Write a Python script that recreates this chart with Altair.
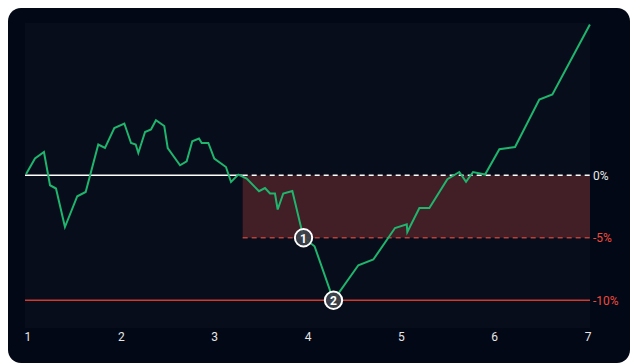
import altair as alt
import pandas as pd

# ---- data ----
x_vals = [0.98, 1.075, 1.171, 1.236, 1.300, 1.396, 1.528, 1.618, 1.753, 1.825,
          1.925, 2.032, 2.104, 2.154, 2.182, 2.254, 2.318, 2.371, 2.460, 2.497,
          2.629, 2.700, 2.760, 2.832, 2.861, 2.932, 2.996, 3.121, 3.175, 3.253,
          3.343, 3.475, 3.539, 3.593, 3.646, 3.675, 3.735, 3.832, 3.952, 4.070,
          4.273, 4.539, 4.700, 4.932, 5.058, 5.064, 5.193, 5.300, 5.493, 5.621,
          5.693, 5.768, 5.897, 6.050, 6.218, 6.478, 6.618, 7.02]
y_vals = [0.1, 1.34, 1.86, -0.8, -1.06, -4.14, -1.68, -1.34, 2.46, 2.18,
          3.78, 4.14, 2.58, 2.46, 1.78, 3.46, 3.66, 4.4, 3.94, 2.18,
          0.8, 1.12, 2.72, 2.94, 2.58, 2.58, 1.34, 0.66, -0.54, 0.05,
          -0.26, -1.28, -1.02, -1.46, -1.46, -2.74, -1.46, -1.26, -5.0, -5.68,
          -10.0, -7.2, -6.74, -4.22, -3.92, -4.54, -2.62, -2.62, -0.32, 0.26,
          -0.52, 0.26, 0.06, 2.08, 2.26, 6.06, 6.46, 12.06]

x_ticks = [1, 2, 3, 4, 5, 6, 7]
x_tick_labels = ["1", "2", "3", "4", "5", "6", "7"]
y_ticks = [0, -5, -10]
y_tick_labels = ["0%", "-5%", "-10%"]
x_domain = [0.968, 7.021]
y_domain = [-12.22, 12.18]

dd_start = 3.30
level_zero = 0
level_soft = -5
level_hard = -10

marker_x = [3.952, 4.273]
marker_y = [-5, -10]
marker_labels = ["1", "2"]

# ---- styles ----
GREEN = "#1fb56d"
RED_LINE = "#d2392f"
RED_DASH = "#b8413b"
RED_LABEL = "#ee4b3d"
CARD = "#030816"
PLOT = "#070d1b"
SHADE = "#421e26"
FONT = "Roboto"

W, H = 565, 305

line_df = pd.DataFrame({"x": x_vals, "y": y_vals})
xs = alt.Scale(domain=x_domain, nice=False, zero=False)
ys = alt.Scale(domain=y_domain, nice=False, zero=False)
one = pd.DataFrame({"a": [0]})

card = alt.Chart(one).mark_rect(fill=CARD, cornerRadius=13).encode(
    x=alt.value(-17), x2=alt.value(605), y=alt.value(-15), y2=alt.value(340))
plot_bg = alt.Chart(one).mark_rect(fill=PLOT).encode(
    x=alt.value(0), x2=alt.value(W), y=alt.value(0), y2=alt.value(H))

shade_df = pd.DataFrame({"x": [dd_start], "x2": [x_domain[1]],
                         "y": [level_zero], "y2": [level_soft]})
shade = alt.Chart(shade_df).mark_rect(fill=SHADE).encode(
    x=alt.X("x:Q", scale=xs, axis=None), x2="x2:Q",
    y=alt.Y("y:Q", scale=ys, axis=None), y2="y2:Q")

def rule(x0, x1, yv, color, dash=None, width=1.5):
    df = pd.DataFrame({"x": [x0], "x2": [x1], "y": [yv]})
    kw = dict(color=color, strokeWidth=width)
    if dash:
        kw["strokeDash"] = dash
    return alt.Chart(df).mark_rule(**kw).encode(
        x=alt.X("x:Q", scale=xs, axis=None), x2="x2:Q",
        y=alt.Y("y:Q", scale=ys, axis=None))

zero_solid = rule(x_domain[0], dd_start, level_zero, "#ffffff")
zero_dash = rule(dd_start, x_domain[1], level_zero, "#ffffff", [5, 4])
soft_dash = rule(dd_start, x_domain[1], level_soft, RED_DASH, [5, 4])
hard_line = rule(x_domain[0], x_domain[1], level_hard, RED_LINE)

line = alt.Chart(line_df).mark_line(color=GREEN, strokeWidth=2).encode(
    x=alt.X("x:Q", scale=xs, axis=None),
    y=alt.Y("y:Q", scale=ys, axis=None))

# tick labels (placed through the scales)
xl_df = pd.DataFrame({"v": x_ticks, "t": x_tick_labels})
x_labels = alt.Chart(xl_df).mark_text(
    color="#e6e6e6", fontSize=12, font=FONT, align="center",
    baseline="middle").encode(
    x=alt.X("v:Q", scale=xs, axis=None), y=alt.value(H + 8.5), text="t:N")

yl_df = pd.DataFrame({"v": y_ticks, "t": y_tick_labels})
y_labels = alt.Chart(yl_df).mark_text(
    fontSize=12, font=FONT, align="left", baseline="middle", dy=0.5).encode(
    x=alt.value(W + 3), y=alt.Y("v:Q", scale=ys, axis=None), text="t:N",
    color=alt.condition("datum.v == 0", alt.value("#e8e8e8"),
                        alt.value(RED_LABEL)))

mk_df = pd.DataFrame({"x": marker_x, "y": marker_y, "t": marker_labels})
markers = alt.Chart(mk_df).mark_point(shape="circle", filled=True, size=300,
                                      fill="#3e434c", fillOpacity=0.92,
                                      stroke="#ffffff", strokeWidth=2,
                                      opacity=1).encode(
    x=alt.X("x:Q", scale=xs, axis=None), y=alt.Y("y:Q", scale=ys, axis=None))
mk_text = alt.Chart(mk_df).mark_text(color="#ffffff", fontWeight="bold",
                                     fontSize=12, font=FONT, align="center",
                                     baseline="middle", dy=1).encode(
    x=alt.X("x:Q", scale=xs, axis=None), y=alt.Y("y:Q", scale=ys, axis=None),
    text="t:N")

chart = alt.layer(card, plot_bg, shade, zero_solid, zero_dash, soft_dash,
                  hard_line, line, markers, mk_text, x_labels,
                  y_labels).properties(
    width=W, height=H,
    autosize=alt.AutoSizeParams(type="none"),
    padding={"left": 17, "top": 15, "right": 40, "bottom": 35},
    background="#ffffff",
).configure_view(stroke=None)

chart.save("out.html", embed_options={"renderer": "svg", "actions": False})
